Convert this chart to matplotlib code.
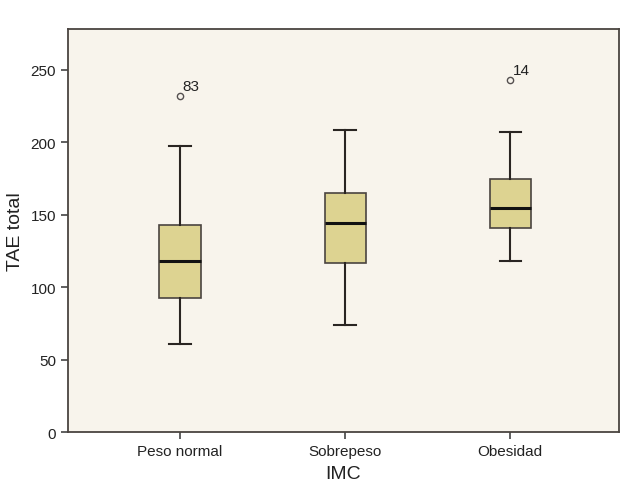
import matplotlib
matplotlib.use("Agg")
import matplotlib.pyplot as plt

plt.rcParams['font.family'] = ['Liberation Sans', 'DejaVu Sans']

categories = ["Peso normal", "Sobrepeso", "Obesidad"]
whisker_low = [60.5, 73.5, 117.7]
q1 = [92.5, 116.3, 140.6]
median = [117.7, 144.3, 154.4]
q3 = [142.6, 164.7, 174.8]
whisker_high = [197.2, 208.3, 206.9]
outliers = [[232.0], [], [243.1]]
outlier_labels = [["83"], [], ["14"]]
yticks = [0, 50, 100, 150, 200, 250]

fig = plt.figure(figsize=(6.28, 4.89), dpi=100)
ax = fig.add_axes([0.108, 0.1145, 0.878, 0.824])
ax.set_facecolor('#F8F4EC')

stats = []
for i, c in enumerate(categories):
    stats.append(dict(label=c, whislo=whisker_low[i], q1=q1[i], med=median[i],
                      q3=q3[i], whishi=whisker_high[i], fliers=outliers[i]))

positions = [1, 2, 3]
ax.bxp(stats, positions=positions, widths=0.25, patch_artist=True,
       boxprops=dict(facecolor='#DDD391', edgecolor='#4a4440', linewidth=1.2),
       medianprops=dict(color='#111111', linewidth=2.2),
       whiskerprops=dict(color='#2a2522', linewidth=1.5),
       capprops=dict(color='#2a2522', linewidth=1.5),
       capwidths=0.13,
       flierprops=dict(marker='o', markersize=4.5, markerfacecolor='none',
                       markeredgecolor='#555050', markeredgewidth=1.0))

for i, (vals, labs) in enumerate(zip(outliers, outlier_labels)):
    for v, l in zip(vals, labs):
        ax.annotate(l, (positions[i], v), xytext=(2, 2), textcoords='offset points',
                    fontsize=11, color='#222222', ha='left', va='bottom')

ax.set_xlim(0.32, 3.66)
ax.set_ylim(0, 278)
ax.set_yticks(yticks)
ax.set_xticks(positions)
ax.set_xticklabels(categories)
ax.tick_params(axis='both', labelsize=11, color='#444444', length=5, width=1.2,
               labelcolor='#222222')
for s in ax.spines.values():
    s.set_color('#4a4440')
    s.set_linewidth(1.3)

ax.set_xlabel('IMC', fontsize=14, color='#222222', labelpad=5)
ax.set_ylabel('TAE total', fontsize=14, color='#222222', labelpad=5)

fig.savefig('out.png', dpi=100, facecolor='white')
